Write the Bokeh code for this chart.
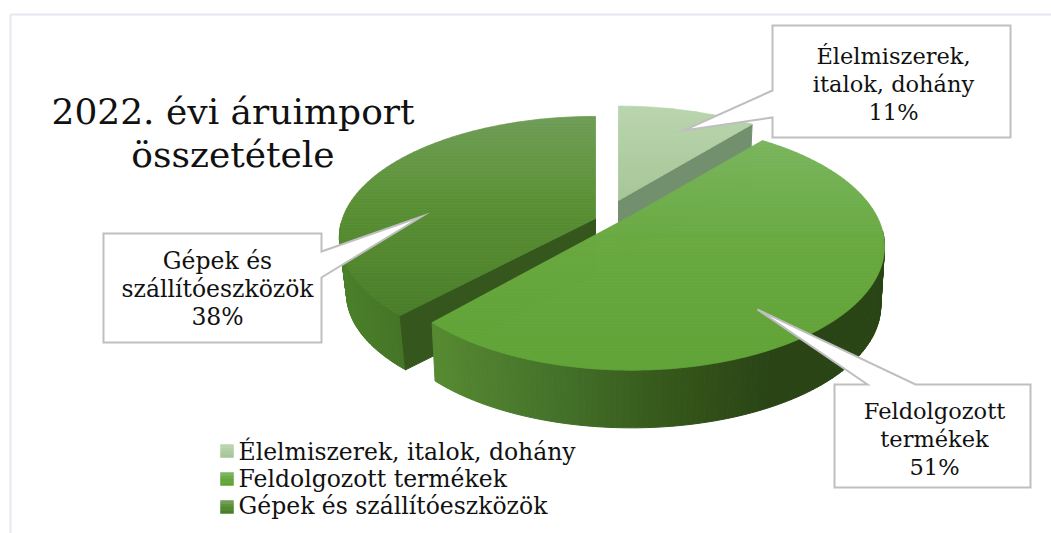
from bokeh.plotting import figure
from bokeh.embed import file_html
from bokeh.resources import INLINE
from bokeh.core.properties import value
from bokeh.models import Range1d
import math

# ---- data ----
categories = ["Élelmiszerek, italok, dohány", "Feldolgozott termékek", "Gépek és szállítóeszközök"]
shares = [11, 51, 38]
title_lines = ["2022. évi áruimport", "összetétele"]
callout_lines = [["Élelmiszerek,", "italok, dohány"], ["Feldolgozott", "termékek"], ["Gépek és", "szállítóeszközök"]]

# ---- style / layout (page pixels) ----
FONT = "DejaVu Serif"
W, H = 1051, 533
BASE_SHIFT = 0.39  # the svg text sits this many em below the requested alphabetic line
# apex x,y; Rx, Ry, perspective, wall height, bottom scale, angular trim of the slice end
geom = [
    dict(cx=618, cy=200, rx=250, ry=118, p=.25, h=58, s=.98, trim=0),
    dict(cx=631, cy=215, rx=245, ry=116, p=.25, h=60, s=.985, trim=-1.8),
    dict(cx=595, cy=218, rx=253, ry=118, p=.156, h=57, s=.972, trim=0),
]
top_grad = [
    [(0, "#bad5ae"), (1, "#a7c698")],
    [(0, "#7ab55f"), (.45, "#69a940"), (1, "#60a337")],
    [(0, "#6f9d56"), (.45, "#5a9034"), (1, "#4a7d2a")],
]
inner_wall = ["#72906e", "#3a5a1c", "#35561c"]
outer_stops = [
    [(0, "#6f8a6b"), (1, "#6f8a6b")],
    [(0, "#578b31"), (.3, "#43702a"), (.5, "#375a1b"), (.75, "#2a4416"), (1, "#294515")],
    [(0, "#4b8029"), (1, "#447426")],
]
callouts = [
    dict(box=(772, 25, 1010, 137), ptr=("left", 90, 117), tip=(683, 130), cx=893, ys=[64, 92, 120], size=22.5),
    dict(box=(834, 384, 1030, 487), ptr=("top", 867, 915), tip=(757, 309), cx=934, ys=[419, 447, 475], size=22.5),
    dict(box=(103, 233, 321, 342), ptr=("right", 251, 277), tip=(421, 216), cx=217, ys=[270, 298, 326], size=23.5),
]
legend_y = [444, 472, 500]
legend_base = [461, 488, 515]
title_y = [125, 168]


def hexrgb(c):
    return tuple(int(c[i:i + 2], 16) for i in (1, 3, 5))


def mix(a, b, t):
    ra, rb = hexrgb(a), hexrgb(b)
    return "#%02x%02x%02x" % tuple(round(x + (y - x) * t) for x, y in zip(ra, rb))


def ramp(stops, t):
    for (t0, c0), (t1, c1) in zip(stops, stops[1:]):
        if t <= t1:
            return mix(c0, c1, (t - t0) / max(t1 - t0, 1e-6))
    return stops[-1][1]


def project(g, th, r=1.0, low=False):
    X, Y = r * math.sin(th), -r * math.cos(th)
    w = 1 - g["p"] * Y
    sc = g["s"] if low else 1.0
    return g["cx"] + sc * g["rx"] * X / w, g["cy"] + sc * g["ry"] * Y / w + (g["h"] if low else 0)


def clip_band(poly, y0, y1):
    def clip(pts, inside, cross):
        out = []
        for i, a in enumerate(pts):
            b = pts[(i + 1) % len(pts)]
            if inside(a):
                out.append(a)
            if inside(a) != inside(b):
                out.append(cross(a, b))
        return out

    def cross_at(y):
        return lambda a, b: (a[0] + (b[0] - a[0]) * (y - a[1]) / (b[1] - a[1]), y)

    res = clip(poly, lambda q: q[1] >= y0, cross_at(y0))
    if res:
        res = clip(res, lambda q: q[1] <= y1, cross_at(y1))
    return res


def put_text(xs, ys, texts, size, align):
    p.text(xs, [y - BASE_SHIFT * size for y in ys], text=texts, text_font=value(FONT), text_font_size=f"{size}px",
           text_align=align, text_baseline="alphabetic", text_color="#111111")


p = figure(width=W, height=H, x_range=Range1d(0, W), y_range=Range1d(H, 0),
           output_backend="svg", toolbar_location=None, min_border=0)
p.axis.visible = False
p.grid.visible = False
p.outline_line_color = None
p.background_fill_color = "white"
p.border_fill_color = "white"

# chart frame
p.multi_line([[10, 1051], [10, 10]], [[14, 14], [14, 533]], line_color="#e4e8f0", line_width=2)

# pie slices (drawn back to front, big slice last)
total = sum(shares)
spans, a = [], 0.0
for v in shares:
    spans.append((a, a + 2 * math.pi * v / total))
    a = spans[-1][1]

for i in (0, 2, 1):
    g = geom[i]
    a0, a1 = spans[i]
    a1 += math.radians(g["trim"])
    n = 160
    ths = [a0 + (a1 - a0) * k / n for k in range(n + 1)]
    # outer rim
    vis = [t for t in ths if -math.cos(t) >= g["p"] - .12]
    if i != 0 and len(vis) > 1:
        xs0 = [project(g, t)[0] for t in vis]
        lo, hi = min(xs0), max(xs0)
        xs, ys, cols = [], [], []
        for t0, t1 in zip(vis, vis[1:]):
            q = [project(g, t0), project(g, t1), project(g, t1, low=True), project(g, t0, low=True)]
            xs.append([c[0] for c in q])
            ys.append([c[1] for c in q])
            cols.append(ramp(outer_stops[i], (q[0][0] - lo) / (hi - lo)))
        p.patches(xs, ys, fill_color=cols, line_color=cols, line_width=1)
    # cut face
    th_cut = a1 if i == 0 else a0
    q = [project(g, 0, 0), project(g, th_cut), project(g, th_cut, low=True), project(g, 0, 0, low=True)]
    if i != 1:
        p.patch([c[0] for c in q], [c[1] for c in q], fill_color=inner_wall[i], line_color=inner_wall[i], line_width=1)
    # top surface, banded vertically for the shading
    poly = [project(g, 0, 0)] + [project(g, t) for t in ths]
    ymin, ymax = min(c[1] for c in poly), max(c[1] for c in poly)
    xs, ys, cols = [], [], []
    step = 3.0
    y = ymin
    while y < ymax:
        band = clip_band(poly, y, y + step)
        if len(band) > 2:
            xs.append([c[0] for c in band])
            ys.append([c[1] for c in band])
            cols.append(ramp(top_grad[i], (y - ymin) / (ymax - ymin)))
        y += step
    p.patches(xs, ys, fill_color=cols, line_color=cols, line_width=.8)

# callouts
for c, lines, v in zip(callouts, callout_lines, shares):
    l, t, r, b = c["box"]
    side, u, w = c["ptr"]
    tip = c["tip"]
    if side == "left":
        pts = [(l, t), (r, t), (r, b), (l, b), (l, w), tip, (l, u)]
    elif side == "right":
        pts = [(l, t), (r, t), (r, u), tip, (r, w), (r, b), (l, b)]
    else:
        pts = [(l, t), (u, t), tip, (w, t), (r, t), (r, b), (l, b)]
    p.patch([q[0] for q in pts] + [pts[0][0]], [q[1] for q in pts] + [pts[0][1]],
            fill_color="white", line_color="#bfbfbf", line_width=2, line_join="miter")
    put_text([c["cx"]] * 3, c["ys"], lines + [f"{v}%"], c["size"], "center")

# title
put_text([232.5, 232.5], title_y, title_lines, 36, "center")

# legend
for i, (name, y, by) in enumerate(zip(categories, legend_y, legend_base)):
    for k in range(4):
        col = ramp(top_grad[i], k / 3)
        p.quad(left=[220], right=[233], top=[y + k * 3.25], bottom=[y + (k + 1) * 3.25], fill_color=col, line_color=col, line_width=.5)
    put_text([238], [by], [name], 23.5, "left")

open("out.html", "w").write(file_html(p, INLINE))
